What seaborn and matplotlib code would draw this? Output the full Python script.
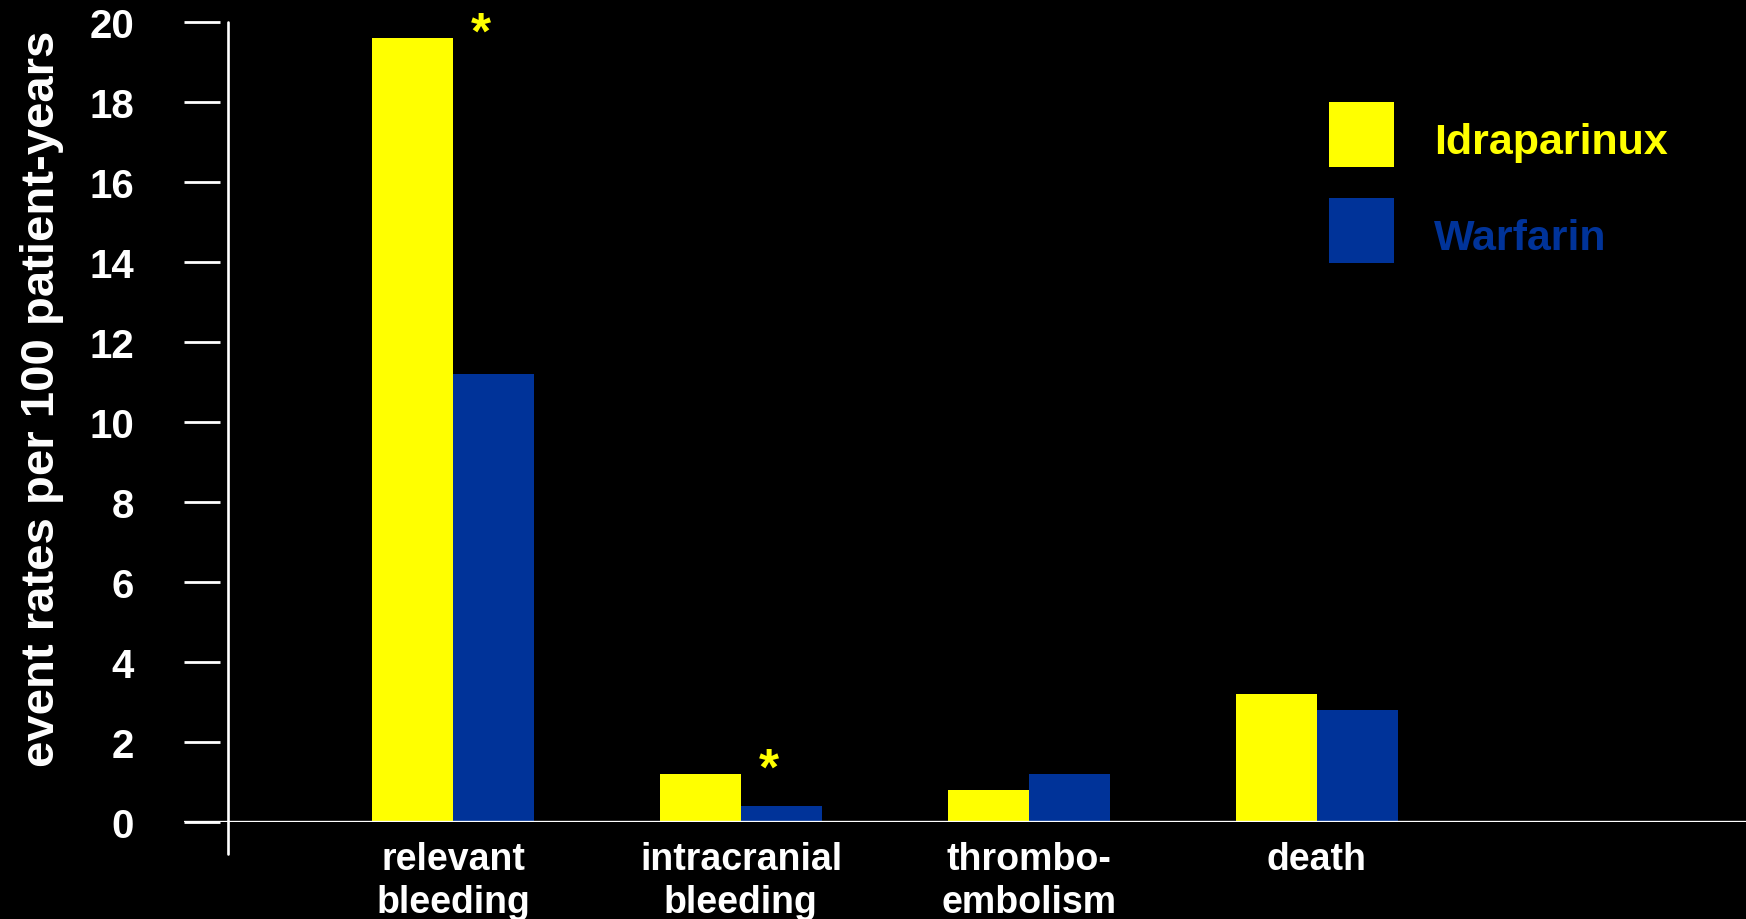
import matplotlib
matplotlib.use("Agg")
import matplotlib.pyplot as plt
import seaborn as sns
import pandas as pd
from matplotlib.patches import Rectangle

categories = ["relevant\nbleeding", "intracranial\nbleeding", "thrombo-\nembolism", "death"]
idraparinux = [19.6, 1.2, 0.8, 3.2]
warfarin = [11.2, 0.4, 1.2, 2.8]
series_names = ["Idraparinux", "Warfarin"]
yticks = [0, 2, 4, 6, 8, 10, 12, 14, 16, 18, 20]
significant = [0, 1]  # categories marked with an asterisk

YELLOW = "#FFFF00"
BLUE = "#003399"

sns.set_theme(style="white")
plt.rcParams["font.family"] = ["Liberation Sans", "DejaVu Sans"]
plt.rcParams["font.weight"] = "bold"

df = pd.DataFrame({
    "category": categories * 2,
    "rate": idraparinux + warfarin,
    "drug": [series_names[0]] * 4 + [series_names[1]] * 4,
})

fig = plt.figure(figsize=(17.46, 9.2), dpi=100, facecolor="black")
ax = fig.add_axes([184 / 1746, 97 / 920, 1562 / 1746, 800 / 920])
ax.set_facecolor("black")

sns.barplot(data=df, x="category", y="rate", hue="drug", order=categories,
            hue_order=series_names, palette=[YELLOW, BLUE], width=0.56,
            gap=0, saturation=1, linewidth=0, legend=False, ax=ax)

ax.set_xlim(-0.934, 4.49)
ax.set_ylim(0, 20)
for s in ax.spines.values():
    s.set_visible(False)

# axis lines
ax.axhline(0, color="white", lw=2.4, zorder=5)
ax.plot([-0.781, -0.781], [20, -0.8], color="white", lw=1.9, clip_on=False, zorder=5)

ax.set_yticks(yticks)
ax.set_yticklabels([str(v) for v in yticks])
ax.tick_params(axis="y", left=True, direction="in", length=26, width=2.0, color="white",
               labelcolor="white", labelsize=29, pad=36)
ax.tick_params(axis="x", bottom=False, length=0, labelcolor="white", labelsize=27, pad=14)
for lab in ax.get_xticklabels() + ax.get_yticklabels():
    lab.set_fontweight("bold")
for lab in ax.get_xticklabels():
    lab.set_linespacing(1.25)

ax.set_xlabel("")
ax.set_ylabel("event rates per 100 patient-years", color="white", fontsize=34,
              fontweight="bold")
ax.yaxis.set_label_coords(-0.077, 0.53)

# significance markers
star_y = {0: 19.7, 1: 1.3}
for i in significant:
    ax.text(i + 0.097, star_y[i], "*", color=YELLOW, fontsize=37,
            fontweight="bold", ha="center", va="center")

# legend drawn as squares with coloured labels
for k, (name, col) in enumerate(zip(series_names, [YELLOW, BLUE])):
    top = 103 + k * 96
    fig.patches.append(Rectangle((1329 / 1746, 1 - (top + 65) / 920), 65 / 1746, 65 / 920,
                                 transform=fig.transFigure, facecolor=col, edgecolor="none"))
    fig.text(1434 / 1746, 1 - (top + 40) / 920, name, color=col, fontsize=31,
             fontweight="bold", ha="left", va="center")

fig.savefig("out.png", dpi=100, facecolor="black")
